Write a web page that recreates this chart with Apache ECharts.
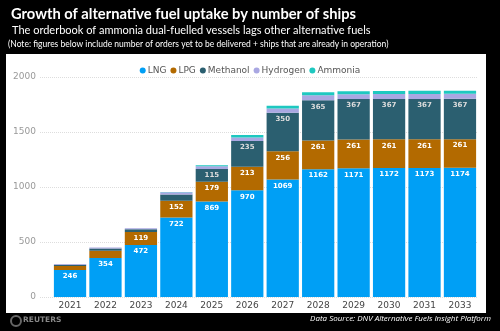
<!DOCTYPE html>
<html><head><meta charset="utf-8">
<script src="https://cdn.jsdelivr.net/npm/echarts@6/dist/echarts.min.js"></script>
<style>html,body{margin:0;padding:0;background:#000;}#c{width:500px;height:331px;}</style>
</head><body><div id="c"></div>
<script>
const years = ['2021','2022','2023','2024','2025','2026','2027','2028','2029','2030','2031','2033'];
const lng      = [246, 354, 472, 722, 869, 970, 1069, 1162, 1171, 1172, 1173, 1174];
const lpg      = [36, 67, 119, 152, 179, 213, 256, 261, 261, 261, 261, 261];
const methanol = [12, 20, 25, 58, 115, 235, 350, 365, 367, 367, 367, 367];
const hydrogen = [5, 8, 8, 20, 25, 32, 38, 45, 44, 45, 45, 45];
const ammonia  = [1, 2, 2, 3, 10, 23, 26, 28, 28, 28, 28, 28];
const yTicks = [0, 500, 1000, 1500, 2000];

const chart = echarts.init(document.getElementById('c'));
const lbl = (color) => ({
  show: true, position: 'insideTop', distance: 3, fontSize: 7, fontWeight: 'bold',
  color: color, fontFamily: 'Verdana, DejaVu Sans, sans-serif',
  formatter: p => p.value >= 100 ? String(p.value) : ''
});
const mk = (name, data, color, label) => ({
  name, type: 'bar', stack: 's', data, xAxisIndex: 1, yAxisIndex: 1,
  barCategoryGap: '9%', itemStyle: { color },
  label: label ? lbl(label) : { show: false },
  emphasis: { disabled: true }
});
chart.setOption({
  backgroundColor: '#000',
  animation: false,
  graphic: [
    { type: 'rect', shape: { x: 6, y: 54, width: 480, height: 259 }, style: { fill: '#fff' }, z: -10 },
    { type: 'text', left: 11, top: 7, style: { text: 'Growth of alternative fuel uptake by number of ships', fill: '#fff', font: 'bold 14.7px Lato, sans-serif' } },
    { type: 'text', left: 12, top: 25, style: { text: 'The orderbook of ammonia dual-fuelled vessels lags other alternative fuels', fill: '#fff', font: '11px Lato, sans-serif' } },
    { type: 'text', left: 8, top: 40, style: { text: '(Note: figures below include number of orders yet to be delivered + ships that are already in operation)', fill: '#fff', font: '8.5px Lato, sans-serif' } },
    { type: 'circle', shape: { cx: 16, cy: 321, r: 5 }, style: { fill: 'none', stroke: '#666', lineWidth: 2 } },
    { type: 'text', left: 23, top: 316, style: { text: 'REUTERS', fill: '#888', font: 'bold 7.5px "DejaVu Sans", sans-serif' } },
    { type: 'text', right: 9, top: 315, style: { text: 'Data Source: DNV Alternative Fuels Insight Platform', fill: '#fff', font: 'italic 8px "Open Sans", sans-serif' } }
  ],
  legend: {
    top: 61, left: 'center', itemWidth: 6, itemHeight: 6, itemGap: 4, icon: 'circle',
    textStyle: { color: '#555', fontSize: 9, fontFamily: 'Verdana, DejaVu Sans, sans-serif', padding: [0,0,0,-3] },
    data: ['LNG','LPG','Methanol','Hydrogen','Ammonia']
  },
  grid: [
    { left: 40, right: 22, top: 77, bottom: 34 },
    { left: 52.3, right: 22.3, top: 77, bottom: 34 }
  ],
  xAxis: [
    { type: 'value', gridIndex: 0, show: false, min: 0, max: 1 },
    { type: 'category', gridIndex: 1, data: years,
      axisLine: { show: false }, axisTick: { show: false },
      axisLabel: { color: '#444', fontSize: 9, margin: 4, fontFamily: 'Verdana, DejaVu Sans, sans-serif' } }
  ],
  yAxis: [
    { type: 'value', gridIndex: 0, min: 0, max: 2000, interval: 500,
      axisLine: { show: false }, axisTick: { show: false },
      axisLabel: { color: '#999', fontSize: 9, margin: 4, fontFamily: 'Verdana, DejaVu Sans, sans-serif',
        formatter: v => yTicks.includes(v) ? String(v) : '' },
      splitLine: { lineStyle: { color: '#ddd', type: 'dotted' } } },
    { type: 'value', gridIndex: 1, min: 0, max: 2000, interval: 500, show: false, splitLine: { show: false } }
  ],
  series: [
    mk('LNG', lng, '#009ff5', '#fff'),
    mk('LPG', lpg, '#b36a00', '#fff'),
    mk('Methanol', methanol, '#2b5f70', '#ddd'),
    mk('Hydrogen', hydrogen, '#a9a7e2', null),
    mk('Ammonia', ammonia, '#1ec8c0', null)
  ]
});
</script></body></html>
